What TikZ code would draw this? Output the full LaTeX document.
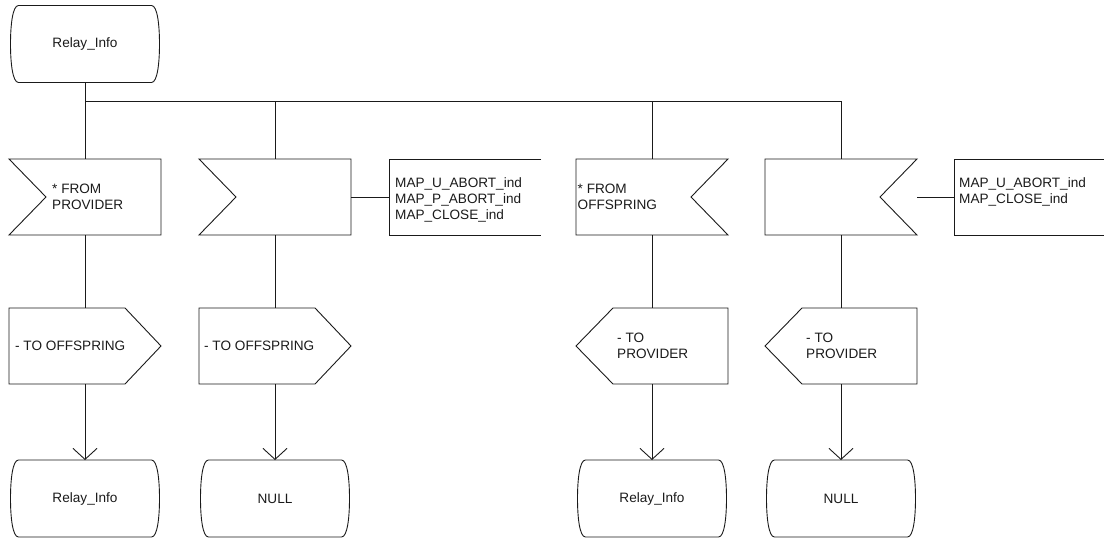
\documentclass[tikz,border=0pt]{standalone}
\usepackage{fontspec}
\setmainfont{Liberation Sans}
\usepackage{tikz}
\usetikzlibrary{positioning,arrows.meta,calc}
\definecolor{ink}{HTML}{1A1A1A}
\tikzset{
  every node/.style={font=\fontsize{13.6}{16.4}\selectfont, text=ink},
  % --- nodes (outlines are drawn afterwards)
  box/.style  = {inner sep=0pt, outer sep=0pt},
  st/.style   = {box, minimum width=149pt, minimum height=77pt},
  sym/.style  = {box, minimum width=152pt, minimum height=76pt},
  cmt/.style  = {box, minimum width=152pt, minimum height=76pt},
  lbl/.style  = {inner sep=0pt, align=left},
  % --- lines
  ln/.style   = {draw=ink, line width=0.9pt},
  flow/.style = {ln, -{Straight Barb[length=11pt,width=24pt]}},
}

\begin{document}
\begin{tikzpicture}[x=1pt, y=-1pt]
  \useasboundingbox (0,0) rectangle (1104,538);
  % states
  \node[st] (s0) at (85,44)    {Relay\_Info};
  \node[st] (s1) at (85,498.5) {Relay\_Info};
  \node[st] (s2) at (275,498.5) {NULL};
  \node[st] (s3) at (652,498.5) {Relay\_Info};
  \node[st] (s4) at (841,498.5) {NULL};
  % inputs and outputs
  \node[sym] (in1) at (85,197) {};
  \node[sym] (in2) at (275,197) {};
  \node[sym] (in3) at (652,197) {};
  \node[sym] (in4) at (841,197) {};
  \node[sym] (out1) at (85,346) {};
  \node[sym] (out2) at (275,346) {};
  \node[sym] (out3) at (652,346) {};
  \node[sym] (out4) at (841,346) {};
  \node[cmt] (c1) at (465,197) {};
  \node[cmt] (c2) at (1030,197) {};

  % outlines
  \foreach \n in {s0,s1,s2,s3,s4}
    \draw[ln] ([xshift=8pt]\n.north west) -- ([xshift=-8pt]\n.north east)
      .. controls ([xshift=-2pt]\n.north east) and ([yshift=-20pt]\n.north east) .. (\n.east)
      .. controls ([yshift=20pt]\n.south east) and ([xshift=-2pt]\n.south east) .. ([xshift=-8pt]\n.south east)
      -- ([xshift=8pt]\n.south west)
      .. controls ([xshift=2pt]\n.south west) and ([yshift=20pt]\n.south west) .. (\n.west)
      .. controls ([yshift=-20pt]\n.north west) and ([xshift=2pt]\n.north west) .. cycle;
  \foreach \n in {in1,in2}
    \draw[ln] (\n.north west) -- (\n.north east) -- (\n.south east) -- (\n.south west)
      -- ([xshift=37pt]\n.west) -- cycle;
  \foreach \n in {in3,in4}
    \draw[ln] (\n.north west) -- (\n.north east) -- ([xshift=-37pt]\n.east)
      -- (\n.south east) -- (\n.south west) -- cycle;
  \foreach \n in {out1,out2}
    \draw[ln] (\n.north west) -- ([xshift=-36pt]\n.north east) -- (\n.east)
      -- ([xshift=-36pt]\n.south east) -- (\n.south west) -- cycle;
  \foreach \n in {out3,out4}
    \draw[ln] (\n.west) -- ([xshift=37pt]\n.north west) -- (\n.north east)
      -- (\n.south east) -- ([xshift=37pt]\n.south west) -- cycle;
  \foreach \n in {c1,c2}
    \draw[ln] (\n.north east) -- (\n.north west) -- (\n.south west) -- (\n.south east);

  % texts
  \node[lbl, right=43pt of in1.west] (in1t) {* FROM\\PROVIDER};
  \node[lbl, right=1.5pt of in3.west] (in3t) {* FROM\\OFFSPRING};
  \node[lbl, right=6pt of out1.west] (out1t) {- TO OFFSPRING};
  \node[lbl, right=5pt of out2.west] (out2t) {- TO OFFSPRING};
  \node[lbl, right=41pt of out3.west] (out3t) {- TO\\PROVIDER};
  \node[lbl, right=41pt of out4.west] (out4t) {- TO\\PROVIDER};
  \node[lbl, anchor=north west] (c1t) at ([xshift=6pt,yshift=-18pt]c1.north west)
    {MAP\_U\_ABORT\_ind\\MAP\_P\_ABORT\_ind\\MAP\_CLOSE\_ind};
  \node[lbl, anchor=north west] (c2t) at ([xshift=5pt,yshift=-18pt]c2.north west)
    {MAP\_U\_ABORT\_ind\\MAP\_CLOSE\_ind};

  % connectors
  \coordinate (bus) at (85,101);
  \draw[ln] (s0.south) -- (in1.north);
  \draw[ln] (bus) -- (bus -| in4.north);
  \foreach \n in {in2,in3,in4}
    \draw[ln] (bus -| \n.north) -- (\n.north);
  \foreach \i in {1,2,3,4} {
    \draw[ln] (in\i.south) -- (out\i.north);
    \draw[flow] (out\i.south) -- (s\i.north);
  }
  \draw[ln] (in2.east) -- (c1.west);
  \draw[ln] (in4.east) -- (c2.west);
\end{tikzpicture}
\end{document}
